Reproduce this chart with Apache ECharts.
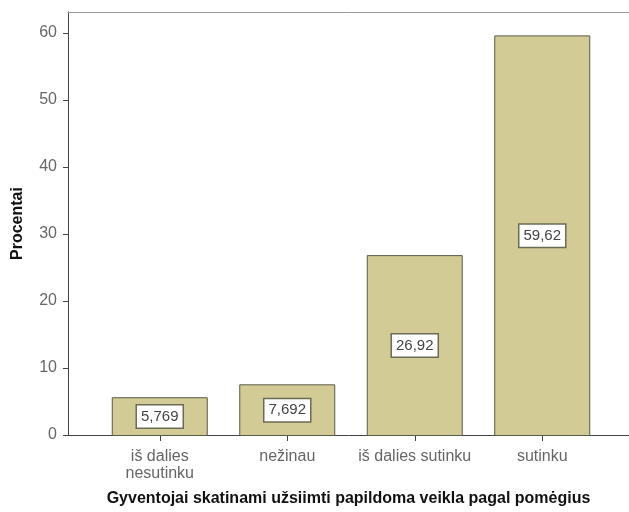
<!DOCTYPE html>
<html><head><meta charset="utf-8">
<script src="https://cdn.jsdelivr.net/npm/echarts@6/dist/echarts.min.js"></script>
<style>html,body{margin:0;padding:0;background:#fff}#c{width:629px;height:512px}</style>
</head><body><div id="c"></div>
<script>
const categories = ['iš dalies\nnesutinku', 'nežinau', 'iš dalies sutinku', 'sutinku'];
const percents = [5.769, 7.692, 26.92, 59.62];
const labels = ['5,769', '7,692', '26,92', '59,62'];
const yTicks = [0, 10, 20, 30, 40, 50, 60];
const xTitle = 'Gyventojai skatinami užsiimti papildoma veikla pagal pomėgius';
const yTitle = 'Procentai';

const FONT = '"Liberation Sans", Arial, sans-serif';
const YMAX = 63.1;
const chart = echarts.init(document.getElementById('c'), null, {renderer: 'canvas'});
chart.setOption({
  animation: false,
  backgroundColor: '#fff',
  grid: [
    {left: 68, right: 0, top: 12, bottom: 76},
    {left: 96, right: 23, top: 12, bottom: 76}
  ],
  xAxis: [
    {gridIndex: 0, type: 'value', min: 0, max: 1, position: 'bottom',
     axisLine: {show: true, lineStyle: {color: '#444', width: 1}}, axisTick: {show: false},
     axisLabel: {show: false}, splitLine: {show: false},
     name: xTitle, nameLocation: 'middle', nameGap: 56,
     nameTextStyle: {fontFamily: FONT, fontSize: 16, fontWeight: 'bold', color: '#111'}},
    {gridIndex: 0, type: 'value', min: 0, max: 1, position: 'top',
     axisLine: {show: true, lineStyle: {color: '#999', width: 1}}, axisTick: {show: false},
     axisLabel: {show: false}, splitLine: {show: false}},
    {gridIndex: 1, type: 'category', data: categories, position: 'bottom',
     axisLine: {show: false},
     axisTick: {show: true, alignWithLabel: true, length: 5, lineStyle: {color: '#444'}},
     axisLabel: {fontFamily: FONT, fontSize: 16, color: '#666', margin: 12, lineHeight: 17, interval: 0},
     splitLine: {show: false}}
  ],
  yAxis: [
    {gridIndex: 0, type: 'value', min: 0, max: YMAX, interval: 10,
     axisLine: {show: true, lineStyle: {color: '#444', width: 1}},
     axisLabel: {fontFamily: FONT, fontSize: 16, color: '#666', margin: 11,
       customValues: yTicks, formatter: v => String(v)},
     axisTick: {show: true, length: 5, lineStyle: {color: '#444'}, customValues: yTicks},
     splitLine: {show: false},
     name: yTitle, nameLocation: 'middle', nameGap: 42, nameRotate: 90,
     nameTextStyle: {fontFamily: FONT, fontSize: 16, fontWeight: 'bold', color: '#111'}},
    {gridIndex: 1, type: 'value', min: 0, max: YMAX, show: false}
  ],
  series: [{
    type: 'bar', xAxisIndex: 2, yAxisIndex: 1,
    data: percents, barWidth: 96,
    itemStyle: {color: '#d2cb95', borderColor: '#5a5a4a', borderWidth: 1},
    label: {show: true, position: 'inside', fontFamily: FONT, fontSize: 15, color: '#444',
      backgroundColor: '#fff', borderColor: '#6b6b55', borderWidth: 1.5,
      padding: [4, 4, 3, 4],
      formatter: p => labels[p.dataIndex]}
  }]
});
</script></body></html>
